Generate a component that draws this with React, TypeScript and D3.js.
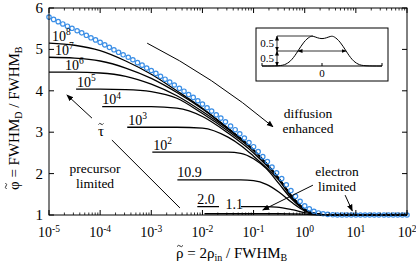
import React from 'react';
import * as d3 from 'd3';

const W = 416;
const H = 264;

const xTickExps = [-5, -4, -3, -2, -1, 0, 1, 2];
const yTickVals = [1, 2, 3, 4, 5, 6];

// blue circle envelope: log10(rho) and phi
const envLogRho = [
  -5, -4.91, -4.82, -4.73, -4.64, -4.55, -4.45, -4.36, -4.27, -4.18, -4.09,
  -4, -3.91, -3.82, -3.73, -3.64, -3.55, -3.45, -3.36, -3.27, -3.18, -3.09,
  -3, -2.91, -2.82, -2.73, -2.64, -2.55, -2.45, -2.36, -2.27, -2.18, -2.09,
  -2, -1.91, -1.82, -1.73, -1.64, -1.55, -1.45, -1.36, -1.27, -1.18, -1.09,
  -1, -0.91, -0.82, -0.73, -0.64, -0.55, -0.45, -0.36, -0.27, -0.18, -0.09,
  0, 0.09, 0.18, 0.27, 0.36, 0.45, 0.55, 0.64, 0.73, 0.82, 0.91,
  1, 1.09, 1.18, 1.27, 1.36, 1.45, 1.55, 1.64, 1.73, 1.82, 1.91, 2,
];
const envPhi = [
  5.78, 5.725, 5.67, 5.615, 5.56, 5.51, 5.45, 5.4, 5.34, 5.28, 5.23,
  5.17, 5.11, 5.05, 4.99, 4.93, 4.87, 4.81, 4.75, 4.68, 4.62, 4.55,
  4.49, 4.42, 4.35, 4.28, 4.21, 4.14, 4.06, 3.99, 3.91, 3.84, 3.76,
  3.68, 3.59, 3.51, 3.42, 3.34, 3.25, 3.15, 3.06, 2.96, 2.86, 2.75,
  2.65, 2.53, 2.41, 2.29, 2.16, 2.02, 1.88, 1.73, 1.59, 1.45, 1.33,
  1.22, 1.15, 1.09, 1.05, 1.03, 1.015, 1.005, 1, 1, 1, 1,
  1, 1, 1, 1, 1, 1, 1, 1, 1, 1, 1, 1,
];

type P = [number, number];
// curves: [log10(rho), phi]
const tau1e8: P[] = [[-5, 5.15], [-4.5, 5.1], [-4, 4.97], [-3.5, 4.72], [-3, 4.4], [-2.5, 4.0], [-2, 3.58], [-1.5, 3.1], [-1, 2.58], [-0.75, 2.25], [-0.5, 1.88], [-0.25, 1.45], [0, 1.14], [0.25, 1.02], [0.45, 1.0], [2, 1.0]];
const tau1e7: P[] = [[-5, 4.81], [-4.5, 4.79], [-4, 4.72], [-3.5, 4.55], [-3, 4.3], [-2.5, 3.96], [-2, 3.56], [-1.5, 3.09], [-1, 2.58], [-0.75, 2.25], [-0.5, 1.88], [-0.25, 1.45], [0, 1.14], [0.25, 1.02], [0.45, 1.0], [2, 1.0]];
const tau1e6: P[] = [[-5, 4.45], [-4.5, 4.45], [-4, 4.43], [-3.5, 4.35], [-3, 4.16], [-2.5, 3.88], [-2, 3.5], [-1.5, 3.07], [-1, 2.57], [-0.75, 2.24], [-0.5, 1.88], [-0.25, 1.45], [0, 1.14], [0.25, 1.02], [0.45, 1.0], [2, 1.0]];
const tau1e5: P[] = [[-4.47, 4.04], [-4, 4.04], [-3.5, 4.03], [-3, 3.98], [-2.5, 3.82], [-2, 3.45], [-1.5, 3.03], [-1, 2.55], [-0.75, 2.23], [-0.5, 1.87], [-0.25, 1.45], [0, 1.14], [0.25, 1.02], [0.45, 1.0], [2, 1.0]];
const tau1e4: P[] = [[-3.96, 3.62], [-3, 3.62], [-2.5, 3.58], [-2, 3.38], [-1.5, 2.98], [-1, 2.5], [-0.75, 2.2], [-0.5, 1.86], [-0.25, 1.44], [0, 1.14], [0.25, 1.02], [0.45, 1.0], [2, 1.0]];
const tau1e3: P[] = [[-3.47, 3.12], [-2.5, 3.12], [-2, 3.1], [-1.5, 2.88], [-1.25, 2.68], [-1, 2.42], [-0.75, 2.14], [-0.5, 1.83], [-0.25, 1.42], [0, 1.13], [0.25, 1.02], [0.45, 1.0], [2, 1.0]];
const tau1e2: P[] = [[-2.98, 2.52], [-1.5, 2.52], [-1.25, 2.49], [-1, 2.36], [-0.75, 2.12], [-0.5, 1.75], [-0.25, 1.38], [0, 1.12], [0.25, 1.02], [0.5, 1.0], [2, 1.0]];
const tau10_9: P[] = [[-2.49, 1.85], [-1.25, 1.85], [-1, 1.83], [-0.75, 1.74], [-0.5, 1.55], [-0.25, 1.3], [0, 1.1], [0.25, 1.02], [0.5, 1.0], [2, 1.0]];
const tau2_0: P[] = [[-2.1, 1.2], [-0.75, 1.2], [-0.55, 1.19], [-0.25, 1.13], [0, 1.06], [0.25, 1.01], [0.5, 1.0], [2, 1.0]];
const tau1_1: P[] = [[-1.96, 1.03], [-0.5, 1.03], [0, 1.02], [0.3, 1.0], [2, 1.0]];

const curveList = [tau1e8, tau1e7, tau1e6, tau1e5, tau1e4, tau1e3, tau1e2, tau10_9, tau2_0, tau1_1];
const curveBase = ['10', '10', '10', '10', '10', '10', '10', '10.9', '2.0', '1.1'];
const curveExp = ['8', '7', '6', '5', '4', '3', '2', '', '', ''];
const labelDx = [3, 6, 16, 1, 0, 1, 1, 0, 0, 21];
const labelDy = [-2.5, -2.5, -2.5, -2.5, -2.5, -2.5, -2.5, -2.5, -2.5, -5];

// inset profile
const insetX = [-1, -0.7, -0.6, -0.5, -0.4, -0.3, -0.2, -0.15, -0.08, 0, 0.08, 0.15, 0.2, 0.3, 0.4, 0.5, 0.6, 0.7, 1];
const insetV = [0, 0, 0.05, 0.2, 0.5, 0.82, 0.99, 1.0, 0.94, 0.9, 0.94, 1.0, 0.99, 0.82, 0.5, 0.2, 0.05, 0, 0];

const FONT = "'Liberation Serif', 'Times New Roman', 'DejaVu Serif', serif";
const BLUE = '#3a8ee6';

const tildePath = (cx: number, cy: number, w = 6) =>
  `M${cx - w / 2},${cy + 0.6} q${w / 4},-2.2 ${w / 2},-0.6 t${w / 2},-0.6`;

export default function App() {
  const x = d3.scaleLog().domain([1e-5, 1e2]).range([49, 407]);
  const y = d3.scaleLinear().domain([1, 6]).range([215, 8]);
  const X = (l: number) => x(Math.pow(10, l));
  const line = d3.line<P>().x(d => X(d[0])).y(d => y(d[1])).curve(d3.curveMonotoneX);

  const minor: number[] = [];
  for (let e = -5; e < 2; e++) for (let m = 2; m <= 9; m++) minor.push(m * Math.pow(10, e));

  const ix = d3.scaleLinear().domain([-1, 1]).range([262, 382]);
  const iy = d3.scaleLinear().domain([0, 1]).range([66, 36]);
  const iline = d3.line<number>().x((_, i) => ix(insetX[i])).y(d => iy(d)).curve(d3.curveBasis);

  const x0 = 49, x1 = 407, y0 = 215, y1 = 8;

  const tauA = { from: [-4.16, 3.34], to: [-4.65, 3.9] };
  const tauB = { from: [-3.77, 2.81], to: [-2.44, 1.17] };
  const diff = { from: [-3.08, 5.15], ctrl: [-1.8, 4.35], to: [-0.62, 3.13] };
  const el1 = { from: [0.16, 1.72], to: [-0.82, 1.12] };
  const el2 = { from: [0.79, 1.48], to: [0.93, 1.1] };

  return (
    <svg width={W} height={H} style={{ position: 'absolute', left: 0, top: 0, background: '#fff', fontFamily: FONT }}>
      <defs>
        <marker id="ah" viewBox="0 0 10 10" refX="9" refY="5" markerWidth="7" markerHeight="7" orient="auto" markerUnits="userSpaceOnUse">
          <path d="M0,1 L10,5 L0,9 Z" fill="#000" />
        </marker>
        <marker id="ahs" viewBox="0 0 10 10" refX="9" refY="5" markerWidth="5" markerHeight="5" orient="auto-start-reverse" markerUnits="userSpaceOnUse">
          <path d="M0,1 L10,5 L0,9 Z" fill="#000" />
        </marker>
        <clipPath id="plot"><rect x={x0} y={y1} width={x1 - x0} height={y0 - y1 + 2} /></clipPath>
      </defs>
      <rect width={W} height={H} fill="#fff" />

      <g clipPath="url(#plot)">
        {curveList.map((c, i) => (
          <path key={i} d={line(c) || ''} fill="none" stroke="#000" strokeWidth={1.3} />
        ))}
      </g>

      <rect x={219} y={199} width={22} height={11} fill="#fff" />

      {envLogRho.map((l, i) => (
        <circle key={i} cx={X(l)} cy={y(envPhi[i])} r={2.2} fill="none" stroke={BLUE} strokeWidth={1.2} />
      ))}

      {curveList.map((c, i) => (
        <text key={i} x={X(c[0][0]) + labelDx[i]} y={y(c[0][1]) + labelDy[i]} fontSize={14} fill="#000">
          {curveBase[i]}
          {curveExp[i] && <tspan dy={-5.5} fontSize={9.5}>{curveExp[i]}</tspan>}
        </text>
      ))}

      <rect x={x0} y={y1} width={x1 - x0} height={y0 - y1} fill="none" stroke="#000" strokeWidth={1} />
      {xTickExps.map(e => (
        <g key={e}>
          <line x1={X(e)} x2={X(e)} y1={y0} y2={y0 - 5} stroke="#000" />
          <line x1={X(e)} x2={X(e)} y1={y1} y2={y1 + 5} stroke="#000" />
          <text x={X(e)} y={237} textAnchor="middle" fontSize={14}>
            10<tspan dy={-5.5} fontSize={9.5}>{String(e)}</tspan>
          </text>
        </g>
      ))}
      {minor.map((v, i) => (
        <g key={i}>
          <line x1={x(v)} x2={x(v)} y1={y0} y2={y0 - 2.5} stroke="#000" strokeWidth={0.8} />
          <line x1={x(v)} x2={x(v)} y1={y1} y2={y1 + 2.5} stroke="#000" strokeWidth={0.8} />
        </g>
      ))}
      {yTickVals.map(v => (
        <g key={v}>
          <line x1={x0} x2={x0 + 5} y1={y(v)} y2={y(v)} stroke="#000" />
          <line x1={x1} x2={x1 - 5} y1={y(v)} y2={y(v)} stroke="#000" />
          <text x={43} y={y(v) + 5} textAnchor="end" fontSize={15}>{v}</text>
        </g>
      ))}

      {/* x axis label */}
      <text x={176} y={258} fontSize={15}>
        {'\u03C1 = 2\u03C1'}<tspan dy={3} fontSize={10}>in</tspan><tspan dy={-3}>{' / FWHM'}</tspan><tspan dy={3} fontSize={10}>B</tspan>
      </text>
      <path d={tildePath(180, 246)} fill="none" stroke="#000" strokeWidth={0.8} />

      {/* y axis label */}
      <g transform="translate(19,190) rotate(-90)">
        <text x={0} y={0} fontSize={15}>
          {'\u03C6 = FWHM'}<tspan dy={3} fontSize={10}>D</tspan><tspan dy={-3}>{' / FWHM'}</tspan><tspan dy={3} fontSize={10}>B</tspan>
        </text>
        <path d={tildePath(4, -13)} fill="none" stroke="#000" strokeWidth={0.8} />
      </g>

      {/* annotations */}
      <line x1={X(tauA.from[0])} y1={y(tauA.from[1])} x2={X(tauA.to[0])} y2={y(tauA.to[1])} stroke="#000" strokeWidth={1} markerEnd="url(#ah)" />
      <line x1={X(tauB.from[0])} y1={y(tauB.from[1])} x2={X(tauB.to[0])} y2={y(tauB.to[1])} stroke="#000" strokeWidth={1} />
      <text x={101} y={136} textAnchor="middle" fontSize={15}>{'\u03C4'}</text>
      <path d={tildePath(101, 124, 5)} fill="none" stroke="#000" strokeWidth={0.8} />

      <path d={`M${X(diff.from[0])},${y(diff.from[1])} Q${X(diff.ctrl[0])},${y(diff.ctrl[1])} ${X(diff.to[0])},${y(diff.to[1])}`} fill="none" stroke="#000" strokeWidth={1} markerEnd="url(#ah)" />
      <text x={308} y={118} textAnchor="middle" fontSize={13.5}>diffusion</text>
      <text x={308} y={132.5} textAnchor="middle" fontSize={13.5}>enhanced</text>

      <text x={95} y={173} textAnchor="middle" fontSize={13.5}>precursor</text>
      <text x={95} y={187.5} textAnchor="middle" fontSize={13.5}>limited</text>

      <line x1={X(el1.from[0])} y1={y(el1.from[1])} x2={X(el1.to[0])} y2={y(el1.to[1])} stroke="#000" strokeWidth={1} markerEnd="url(#ah)" />
      <line x1={X(el2.from[0])} y1={y(el2.from[1])} x2={X(el2.to[0])} y2={y(el2.to[1])} stroke="#000" strokeWidth={1} markerEnd="url(#ah)" />
      <text x={337} y={176} textAnchor="middle" fontSize={13.5}>electron</text>
      <text x={337} y={190.5} textAnchor="middle" fontSize={13.5}>limited</text>

      {/* inset */}
      <rect x={256} y={28} width={132} height={53} fill="#fff" stroke="#000" strokeWidth={1} />
      <line x1={ix(-1)} x2={ix(1)} y1={iy(0)} y2={iy(0)} stroke="#000" strokeWidth={1} />
      {[-1, 0, 1].map(t => (
        <line key={t} x1={ix(t)} x2={ix(t)} y1={iy(0)} y2={iy(0) - 3} stroke="#000" strokeWidth={1} />
      ))}
      <text x={ix(0)} y={77} textAnchor="middle" fontSize={11}>0</text>
      <path d={iline(insetV) || ''} fill="none" stroke="#000" strokeWidth={1} />
      <line x1={277} x2={ix(-0.15)} y1={iy(1)} y2={iy(1)} stroke="#000" strokeWidth={0.8} />
      <line x1={277} x2={ix(-0.4)} y1={iy(0.5)} y2={iy(0.5)} stroke="#000" strokeWidth={0.8} />
      <line x1={ix(-0.4)} x2={ix(0.4)} y1={iy(0.5)} y2={iy(0.5)} stroke="#000" strokeWidth={0.8} markerStart="url(#ahs)" markerEnd="url(#ahs)" />
      <line x1={277} x2={277} y1={iy(1)} y2={iy(0.5)} stroke="#000" strokeWidth={0.8} markerStart="url(#ahs)" markerEnd="url(#ahs)" />
      <line x1={277} x2={277} y1={iy(0.5)} y2={iy(0)} stroke="#000" strokeWidth={0.8} markerStart="url(#ahs)" markerEnd="url(#ahs)" />
      <text x={274} y={iy(0.75) + 3.5} textAnchor="end" fontSize={11}>0.5</text>
      <text x={274} y={iy(0.25) + 3.5} textAnchor="end" fontSize={11}>0.5</text>
    </svg>
  );
}
